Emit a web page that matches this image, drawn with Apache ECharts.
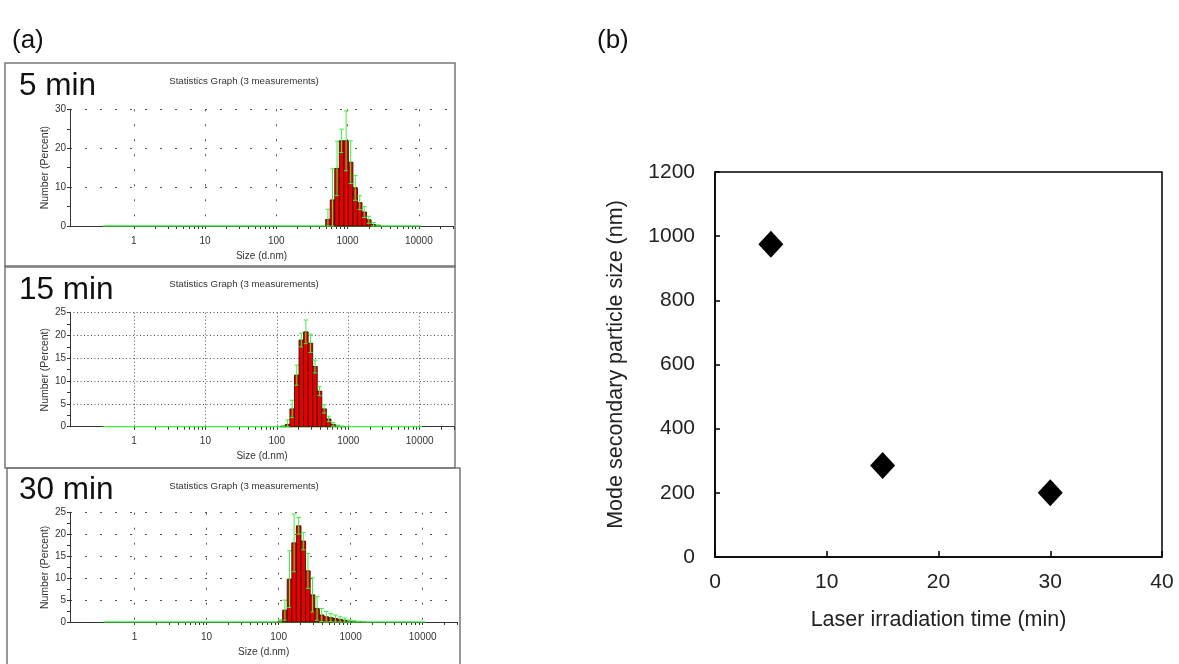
<!DOCTYPE html>
<html><head><meta charset="utf-8">
<script src="https://cdn.jsdelivr.net/npm/echarts@6/dist/echarts.min.js"></script>
<style>html,body{margin:0;padding:0;background:#fff}#c{width:1179px;height:664px}</style>
</head><body><div id="c"></div>
<script>
// ---------------- data ----------------
const panelLabels = ['5 min', '15 min', '30 min'];
const panelTitle = 'Statistics Graph (3 measurements)';
const binEdges = [0.371, 10770];           // green baseline extent (nm)
const sizeTickLabels = ['1', '10', '100', '1000', '10000'];

const sizes5 = [531.2, 615.1, 712.4, 825.0, 955.4, 1106, 1281, 1484, 1718, 1990, 2305, 2669];
const mean5  = [1.7, 6.7, 14.8, 21.9, 21.9, 16.4, 9.8, 6.0, 3.6, 1.6, 0.4, 0.1];
const sd5    = [2.6, 8.0, 7.0, 3.0, 7.7, 5.5, 3.2, 1.8, 1.4, 0.9, 0.5, 0.2];

const sizes15 = [122.4, 141.8, 164.2, 190.1, 220.2, 255.0, 295.3, 342.0, 396.1, 458.7, 531.2, 615.1, 712.4, 825.0];
const mean15  = [0.1, 0.5, 3.9, 11.3, 19.0, 20.8, 18.3, 13.2, 7.8, 3.9, 1.7, 0.5, 0.15, 0.05];
const sd15    = [0.2, 1.0, 1.9, 2.2, 1.5, 2.6, 2.0, 1.4, 1.0, 0.9, 0.6, 0.4, 0.2, 0.1];

const sizes30 = [105.7, 122.4, 141.8, 164.2, 190.1, 220.2, 255.0, 295.3, 342.0, 396.1, 458.7, 531.2, 615.1, 712.4, 825.0, 955.4, 1106, 1281, 1484];
const mean30  = [0.2, 2.7, 9.8, 18.1, 22.0, 18.5, 11.7, 6.2, 3.1, 1.6, 1.2, 1.0, 0.8, 0.6, 0.4, 0.2, 0.1, 0.05, 0.02];
const sd30    = [0.3, 2.3, 6.5, 6.6, 1.9, 2.0, 4.0, 3.9, 2.7, 1.5, 1.2, 0.9, 0.8, 0.6, 0.5, 0.3, 0.2, 0.1, 0.05];

const modeTimes = [5, 15, 30];             // min
const modeSizes = [975, 285, 200];         // nm

// ---------------- helpers ----------------
const FONT = "'Liberation Sans', Arial, sans-serif";
const LMIN = -0.895, LMAX = 4.48;
const HALF = 0.0319;                       // half bin width (log10 units)
const minorTickVals = [];
for (let n = 0; n <= 4; n++) for (let k = 1; k <= 9; k++) {
  const L = Math.log10(k * Math.pow(10, n));
  if (L <= LMAX) minorTickVals.push(L);
}

function histItem(params, api) {
  const L = api.value(0), m = api.value(1), s = api.value(2);
  const p0 = api.coord([L - HALF, m]);
  const p1 = api.coord([L + HALF, 0]);
  const children = [];
  children.push({type: 'rect', shape: {x: p0[0], y: p0[1], width: p1[0] - p0[0], height: p1[1] - p0[1]},
    style: {fill: '#ea0000', stroke: '#3a1000', lineWidth: 0.9}});
  const top = api.coord([L, m + s]);
  const bot = api.coord([L, Math.max(0, m - s)]);
  const hw = (p1[0] - p0[0]) / 2;
  const gs = {stroke: '#3cf03c', lineWidth: 1};
  children.push({type: 'line', shape: {x1: top[0], y1: top[1], x2: bot[0], y2: bot[1]}, style: gs});
  children.push({type: 'line', shape: {x1: top[0] - hw, y1: top[1], x2: top[0] + hw, y2: top[1]}, style: gs});
  children.push({type: 'line', shape: {x1: bot[0] - hw, y1: bot[1], x2: bot[0] + hw, y2: bot[1]}, style: gs});
  return {type: 'group', children};
}

const panels = [
  {sizes: sizes5, mean: mean5, sd: sd5, grid: {left: 70, top: 109.3, width: 383, height: 116.7}, ymax: 30, yint: 10, dash: [2, 13], box: [5, 63, 450, 204], lab: [19, 86], ttl: 81},
  {sizes: sizes15, mean: mean15, sd: sd15, grid: {left: 70, top: 312.7, width: 384, height: 114}, ymax: 25, yint: 5, dash: [1, 2.5], box: [5, 266, 450, 202], lab: [19, 290], ttl: 284},
  {sizes: sizes30, mean: mean30, sd: sd30, grid: {left: 70, top: 512.7, width: 387.3, height: 109.3}, ymax: 25, yint: 5, dash: [2, 13], box: [7, 468, 453, 210], lab: [19, 490], ttl: 486}
];

const grid = [], xAxis = [], yAxis = [], series = [], graphic = [];
panels.forEach((p, i) => {
  grid.push(p.grid);
  const dotStyle = {color: '#555', width: 1, type: p.dash};
  xAxis.push({
    type: 'value', gridIndex: i, min: LMIN, max: LMAX, position: 'bottom',
    name: 'Size (d.nm)', nameLocation: 'middle', nameGap: 25,
    nameTextStyle: {fontFamily: FONT, fontSize: 10, color: '#333'},
    axisLine: {show: true, onZero: false, lineStyle: {color: '#333', width: 1}},
    axisTick: {show: false},
    axisLabel: {fontFamily: FONT, fontSize: 10, color: '#333', margin: 10, showMinLabel: false, showMaxLabel: false,
      formatter: v => sizeTickLabels[Math.round(v)] || ''},
    splitLine: {show: true, showMinLine: false, showMaxLine: false, lineStyle: dotStyle}
  });
  xAxis.push({
    type: 'value', gridIndex: i, min: LMIN, max: LMAX, position: 'bottom',
    axisLine: {show: false, onZero: false},
    axisTick: {show: true, customValues: minorTickVals, length: 3, inside: false, lineStyle: {color: '#333'}},
    axisLabel: {show: false},
    splitLine: {show: false}
  });
  yAxis.push({
    type: 'value', gridIndex: i, min: 0, max: p.ymax, interval: p.yint,
    name: 'Number (Percent)', nameLocation: 'middle', nameGap: 19,
    nameTextStyle: {fontFamily: FONT, fontSize: 10.5, color: '#333'},
    axisLine: {show: true, onZero: false, lineStyle: {color: '#333', width: 1}},
    axisTick: {show: true, length: 3, lineStyle: {color: '#333'}},
    minorTick: {show: true, splitNumber: 2, length: 3, lineStyle: {color: '#333'}},
    axisLabel: {fontFamily: FONT, fontSize: 10, color: '#333', margin: 4},
    splitLine: {show: true, showMinLine: false, lineStyle: dotStyle}
  });
  series.push({
    type: 'line', xAxisIndex: 2 * i, yAxisIndex: i, symbol: 'none', silent: true, z: 1,
    lineStyle: {color: '#3cf03c', width: 1.5},
    data: binEdges.map(e => [Math.log10(e), 0])
  });
  series.push({
    type: 'custom', xAxisIndex: 2 * i, yAxisIndex: i, z: 3, silent: true,
    renderItem: histItem,
    data: p.sizes.map((s, j) => [Math.log10(s), p.mean[j], p.sd[j]])
  });
  graphic.push({type: 'rect', shape: {x: p.box[0], y: p.box[1], width: p.box[2], height: p.box[3]},
    style: {fill: 'none', stroke: '#777', lineWidth: 1.5}, z: 0, silent: true});
  graphic.push({type: 'text', x: p.lab[0], y: p.lab[1], style: {text: panelLabels[i], font: '31.5px ' + FONT, fill: '#111', textVerticalAlign: 'middle'}});
  graphic.push({type: 'text', x: 244, y: p.ttl, style: {text: panelTitle, font: '9.7px ' + FONT, fill: '#333', textAlign: 'center', textVerticalAlign: 'middle'}});
});

// panel (b)
grid.push({left: 715, top: 172, width: 447, height: 385, show: true, borderColor: '#000', borderWidth: 1.5, backgroundColor: 'transparent'});
xAxis.push({
  type: 'value', gridIndex: 3, min: 0, max: 40, interval: 10,
  name: 'Laser irradiation time (min)', nameLocation: 'middle', nameGap: 52,
  nameTextStyle: {fontFamily: FONT, fontSize: 21.5, color: '#222'},
  axisLine: {show: true, lineStyle: {color: '#000', width: 1.5}},
  axisTick: {show: true, inside: true, length: 6, lineStyle: {color: '#000', width: 1.5}},
  axisLabel: {fontFamily: FONT, fontSize: 21, color: '#222', margin: 15},
  splitLine: {show: false}
});
yAxis.push({
  type: 'value', gridIndex: 3, min: 0, max: 1200, interval: 200,
  name: 'Mode secondary particle size (nm)', nameLocation: 'middle', nameGap: 88,
  nameTextStyle: {fontFamily: FONT, fontSize: 21.5, color: '#222'},
  axisLine: {show: true, lineStyle: {color: '#000', width: 1.5}},
  axisTick: {show: true, inside: true, length: 5, lineStyle: {color: '#000', width: 1.5}},
  axisLabel: {fontFamily: FONT, fontSize: 21, color: '#222', margin: 20, formatter: v => String(v)},
  splitLine: {show: false}
});
series.push({
  type: 'scatter', xAxisIndex: 6, yAxisIndex: 3, symbol: 'diamond', symbolSize: [25, 27],
  itemStyle: {color: '#000', opacity: 1},
  data: modeTimes.map((t, i) => [t, modeSizes[i]])
});

graphic.push({type: 'text', x: 12, y: 41, style: {text: '(a)', font: '26px ' + FONT, fill: '#111', textVerticalAlign: 'middle'}});
graphic.push({type: 'text', x: 597, y: 41, style: {text: '(b)', font: '26px ' + FONT, fill: '#111', textVerticalAlign: 'middle'}});

const chart = echarts.init(document.getElementById('c'), null, {renderer: 'canvas'});
chart.setOption({backgroundColor: '#fff', animation: false, grid, xAxis, yAxis, series, graphic});
</script>
</body></html>
